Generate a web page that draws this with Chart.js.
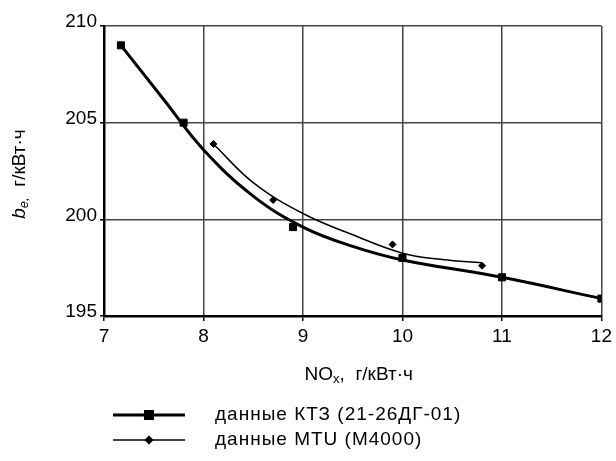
<!DOCTYPE html>
<html>
<head>
<meta charset="utf-8">
<script src="https://cdn.jsdelivr.net/npm/chart.js@4.4.1/dist/chart.umd.min.js"></script>
<style>
  html, body { margin: 0; padding: 0; background: #fff; }
  #wrap { width: 616px; height: 461px; position: relative; }
</style>
</head>
<body>
<div id="wrap"><canvas id="beChart"></canvas></div>
<script>
const xTicks = [7, 8, 9, 10, 11, 12];
const yTicks = [195, 200, 205, 210];

// measured points
const ktzX = [7.17, 7.8, 8.9, 10, 11, 12];
const ktzY = [209, 205, 199.6, 198, 197, 195.9];
const mtuX = [8.1, 8.7, 9.9, 10.8];
const mtuY = [203.9, 201, 198.7, 197.6];

// trend curves
const ktzTrendX = [7.17, 7.6, 8.0, 8.5, 9.0, 9.5, 10, 11, 12];
const ktzTrendY = [209, 206.2, 203.6, 201.2, 199.6, 198.6, 197.9, 197.0, 195.9];
const mtuTrendX = [8.1, 8.5, 9.0, 9.5, 10.0, 10.4, 10.8];
const mtuTrendY = [203.9, 201.9, 200.3, 199.2, 198.25, 197.92, 197.75];

const legendLabels = ['данные КТЗ (21-26ДГ-01)', 'данные MTU (M4000)'];

const FONT = 'Liberation Sans, Arial, sans-serif';
const zip = (xs, ys) => xs.map((x, i) => ({ x, y: ys[i] }));

const trendSeries = (xs, ys, width) => ({
  data: zip(xs, ys),
  borderColor: '#000',
  borderWidth: width,
  pointRadius: 0,
  showLine: true,
  tension: 0.4,
  fill: false,
});

const pointSeries = (xs, ys, style, r) => ({
  data: zip(xs, ys),
  showLine: false,
  pointStyle: style,
  pointRadius: r,
  pointBackgroundColor: '#000',
  pointBorderColor: '#000',
  pointBorderWidth: 1,
});

// axis titles with sub-scripts + legend under the plot
const decor = {
  id: 'decor',
  afterDraw(chart) {
    const { ctx, chartArea: a } = chart;
    ctx.save();
    ctx.fillStyle = '#000';
    ctx.textBaseline = 'middle';

    // x title: NOx, г/кВт·ч
    const xt = [['NO', 19, 0], ['x', 13, 4], [',  г/кВт·ч', 19, 0]];
    let w = 0;
    xt.forEach(([t, s]) => { ctx.font = `${s}px ${FONT}`; w += ctx.measureText(t).width; });
    let x = (a.left + a.right) / 2 + 6 - w / 2;
    const y = a.bottom + 59;
    xt.forEach(([t, s, dy]) => {
      ctx.font = `${s}px ${FONT}`;
      ctx.textAlign = 'left';
      ctx.fillText(t, x, y + dy);
      x += ctx.measureText(t).width;
    });

    // y title: be, г/кВт·ч
    const yt = [['b', `italic 19px ${FONT}`, 0], ['e,', `italic 13px ${FONT}`, 4], ['  г/кВт·ч', `19px ${FONT}`, 0]];
    w = 0;
    yt.forEach(([t, f]) => { ctx.font = f; w += ctx.measureText(t).width; });
    ctx.translate(20, (a.top + a.bottom) / 2 + 3);
    ctx.rotate(-Math.PI / 2);
    x = -w / 2;
    yt.forEach(([t, f, dy]) => {
      ctx.font = f;
      ctx.textAlign = 'left';
      ctx.fillText(t, x, dy);
      x += ctx.measureText(t).width;
    });
    ctx.setTransform(1, 0, 0, 1, 0, 0);

    // legend
    const rows = [
      { y: 415, lw: 3, ds: chart.data.datasets[2] },
      { y: 440, lw: 1.5, ds: chart.data.datasets[3] },
    ];
    rows.forEach((r, i) => {
      ctx.strokeStyle = '#000';
      ctx.lineWidth = r.lw;
      ctx.beginPath();
      ctx.moveTo(113, r.y);
      ctx.lineTo(185, r.y);
      ctx.stroke();
      Chart.helpers.drawPoint(ctx, { pointStyle: r.ds.pointStyle, radius: r.ds.pointRadius, borderWidth: 1 }, 149, r.y);
      ctx.fill();
      ctx.font = `19px ${FONT}`;
      ctx.letterSpacing = '1px';
      ctx.textAlign = 'left';
      ctx.fillText(legendLabels[i], 215, r.y);
      ctx.letterSpacing = '0px';
    });
    ctx.restore();
  },
};

new Chart(document.getElementById('beChart').getContext('2d'), {
  type: 'scatter',
  data: {
    datasets: [
      trendSeries(ktzTrendX, ktzTrendY, 3),
      trendSeries(mtuTrendX, mtuTrendY, 1.5),
      pointSeries(ktzX, ktzY, 'rect', 5),
      pointSeries(mtuX, mtuY, 'rectRot', 3.5),
    ],
  },
  options: {
    responsive: true,
    maintainAspectRatio: false,
    animation: false,
    layout: { padding: { left: 0, right: 14, top: 26, bottom: 105 } },
    plugins: { legend: { display: false }, tooltip: { enabled: false } },
    scales: {
      x: {
        type: 'linear',
        min: 7, max: 12,
        afterBuildTicks: (s) => { s.ticks = xTicks.map((v) => ({ value: v })); },
        afterFit: (s) => { s.height = 40; },
        ticks: { color: '#000', font: { family: FONT, size: 19 }, padding: 4 },
        grid: { color: '#444', lineWidth: 1.5, tickColor: '#000', tickLength: 5, tickWidth: 1.5 },
        border: { color: '#000', width: 2.5 },
      },
      y: {
        type: 'linear',
        min: 195, max: 210,
        afterBuildTicks: (s) => { s.ticks = yTicks.map((v) => ({ value: v })); },
        afterFit: (s) => { s.width = 104; },
        ticks: { color: '#000', font: { family: FONT, size: 19 }, padding: 3, labelOffset: -4 },
        grid: { color: '#444', lineWidth: 1.5, tickColor: '#000', tickLength: 4, tickWidth: 1.5 },
        border: { color: '#000', width: 2.5 },
      },
    },
  },
  plugins: [decor],
});
</script>
</body>
</html>
